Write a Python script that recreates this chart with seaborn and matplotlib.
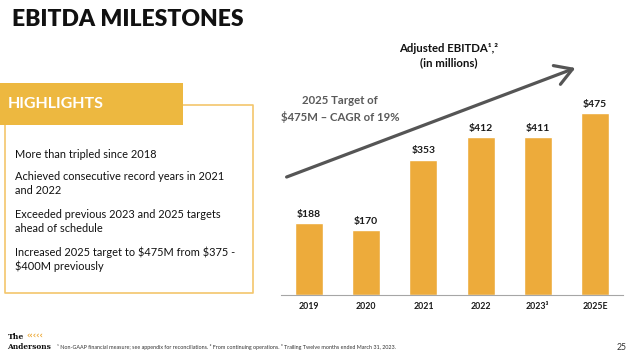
import matplotlib
matplotlib.use("Agg")
import matplotlib.pyplot as plt
import seaborn as sns
import pandas as pd
from matplotlib.patches import Rectangle, FancyArrowPatch
from matplotlib.lines import Line2D

# ---- data ----
years = ["2019", "2020", "2021", "2022", "2023³", "2025E"]
ebitda = [188, 170, 353, 412, 411, 475]
value_labels = ["$188", "$170", "$353", "$412", "$411", "$475"]
highlights = [
    ["More than tripled since 2018"],
    ["Achieved consecutive record years in 2021", "and 2022"],
    ["Exceeded previous 2023 and 2025 targets", "ahead of schedule"],
    [r"Increased 2025 target to \$475M from \$375 -", r"\$400M previously"],
]

sns.set_theme(style="white")
plt.rcParams["font.family"] = ["Lato", "DejaVu Sans"]

BAR = "#EDAB3B"
HEAD = "#EDB840"
EDGE = "#F3C66C"

W, H = 640, 358
fig = plt.figure(figsize=(6.4, 3.58), dpi=100)
fig.patch.set_facecolor("white")

def fx(px): return px / W
def fy(py): return 1 - py / H

# ---- bar chart ----
ax = fig.add_axes([fx(281), fy(295), fx(623) - fx(281), fy(40) - fy(295)])
df = pd.DataFrame({"year": years, "ebitda": ebitda})
sns.barplot(data=df, x="year", y="ebitda", color=BAR, width=0.49,
            saturation=1, ax=ax)
ax.set_xlim(-0.49, 5.49)
ax.set_ylim(0, 665)
ax.bar_label(ax.containers[0], labels=value_labels, padding=3,
             fontsize=7.5, fontweight="bold", color="#1a1a1a")
ax.set_xlabel("")
ax.set_ylabel("")
ax.set_yticks([])
ax.tick_params(axis="x", length=0, pad=5, labelsize=6.3, labelcolor="#1a1a1a")
for t in ax.get_xticklabels():
    t.set_fontweight("bold")
for s in ["top", "right", "left"]:
    ax.spines[s].set_visible(False)
ax.spines["bottom"].set_color("#A6A6A6")
ax.spines["bottom"].set_linewidth(0.8)
ax.patch.set_alpha(0)

# ---- growth arrow ----
arr = FancyArrowPatch((fx(284), fy(178)), (fx(578), fy(67)),
                      transform=fig.transFigure,
                      arrowstyle="->,head_length=1.0,head_width=0.6",
                      mutation_scale=12, color="#555555", lw=2.3, zorder=5)
fig.patches.append(arr)

fig.text(fx(340), fy(101), "2025 Target of", ha="center", va="center",
         fontsize=8.2, fontweight="bold", color="#5a5a5a")
fig.text(fx(340), fy(117), "$475M – CAGR of 19%", ha="center", va="center",
         fontsize=8.2, fontweight="bold", color="#5a5a5a")
fig.text(fx(449), fy(48), "Adjusted EBITDA¹,²", ha="center", va="center",
         fontsize=8.2, fontweight="bold", color="#111111")
fig.text(fx(449), fy(63), "(in millions)", ha="center", va="center",
         fontsize=8.2, fontweight="bold", color="#111111")

# ---- title ----
fig.text(fx(12), fy(20), "EBITDA MILESTONES", ha="left", va="center",
         fontsize=16.5, fontweight="heavy", color="#111111")

# ---- highlights box ----
fig.patches.append(Rectangle((0, fy(125)), fx(183), fy(83) - fy(125),
                             transform=fig.transFigure, facecolor=HEAD,
                             edgecolor="none", zorder=2))
fig.text(fx(8), fy(104), "HIGHLIGHTS", ha="left", va="center",
         fontsize=11.5, fontweight="bold", color="white", zorder=3)
xs = [fx(183), fx(253), fx(253), fx(5), fx(5)]
ys = [fy(105), fy(105), fy(293), fy(293), fy(125)]
fig.lines.append(Line2D(xs, ys, transform=fig.transFigure, color=EDGE,
                        lw=1.2, zorder=1))
hl_y = [154, 177, 215, 252]
for lines, yy in zip(highlights, hl_y):
    for i, line in enumerate(lines):
        fig.text(fx(15), fy(yy + 14 * i), line, ha="left", va="center",
                 fontsize=7.9, color="#111111")

# ---- footer ----
fig.text(fx(8), fy(337), "The", ha="left", va="center", fontsize=5.6,
         fontweight="bold", family="DejaVu Serif", color="#111111")
fig.text(fx(26), fy(336), "‹‹‹‹‹", ha="left", va="center", fontsize=6,
         fontweight="bold", color=BAR, family="DejaVu Sans")
fig.text(fx(7), fy(347), "Andersons", ha="left", va="center", fontsize=5.4,
         fontweight="bold", family="DejaVu Serif", color="#111111")
fig.text(fx(57), fy(347),
         "¹ Non-GAAP financial measure; see appendix for reconciliations. ² From continuing operations. ³ Trailing Twelve months ended March 31, 2023.",
         ha="left", va="center", fontsize=3.9, color="#333333")
fig.text(fx(622), fy(347), "25", ha="center", va="center", fontsize=6.2, color="#333333")

fig.savefig("out.png", dpi=100, facecolor="white")
